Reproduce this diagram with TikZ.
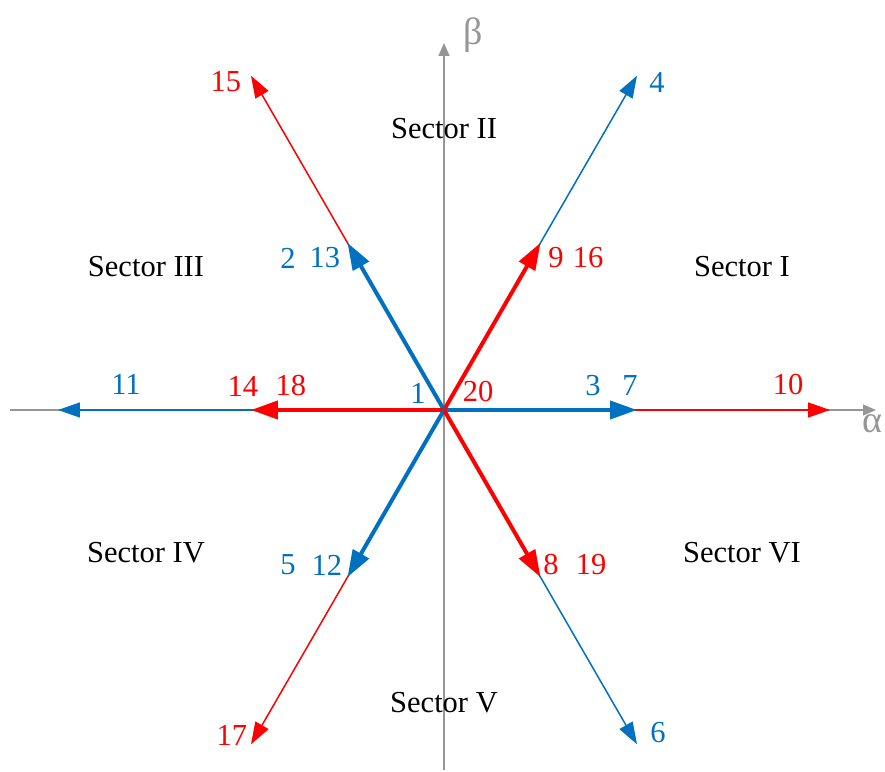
\documentclass[tikz,border=0pt]{standalone}
\usepackage{fontspec}
\setmainfont{Liberation Serif}
\usetikzlibrary{arrows.meta}
\definecolor{vblue}{RGB}{0,112,192}
\definecolor{vred}{RGB}{255,0,0}
\definecolor{axgray}{RGB}{150,150,150}
\tikzset{
  axis/.style={draw=axgray, line width=1.4pt, -{Triangle[length=13pt,width=11pt]}},
  thinvec/.style={line width=1.5pt, -{Triangle[length=22pt,width=15pt]}},
  thickvec/.style={line width=4pt, -{Triangle[length=27pt,width=18pt]}},
  lbl/.style={inner sep=0pt, font=\fontsize{30.5}{35}\selectfont},
  axlbl/.style={inner sep=0pt, text=axgray, font=\fontsize{38}{42}\selectfont},
}
\begin{document}
\begin{tikzpicture}[x=1pt,y=1pt]
\useasboundingbox (-444,-361) rectangle (441,410);
\coordinate (O) at (0,0);
\coordinate (ax0) at (-434,0);
\coordinate (ax1) at (432,0);
\coordinate (ay0) at (0,-360);
\coordinate (ay1) at (0,367);
\draw[axis] (ax0) -- (ax1);
\draw[axis] (ay0) -- (ay1);
\node[axlbl] (beta) at (29,375) {β};
\node[axlbl] (alpha) at (428,-14) {α};
% long vectors
\foreach \a/\c/\n in {0/vred/L0,60/vblue/L60,120/vred/L120,180/vblue/L180,240/vred/L240,300/vblue/L300}{
  \coordinate (\n) at (\a:386);
  \draw[thinvec, draw=\c, fill=\c] (O) -- (\n);
}
% short vectors
\foreach \a/\c/\n in {0/vblue/S0,60/vred/S60,120/vblue/S120,180/vred/S180,240/vblue/S240,300/vred/S300}{
  \coordinate (\n) at (\a:193);
  \draw[thickvec, draw=\c, fill=\c] (O) -- (\n);
}
% labels
\node[lbl, text=vblue] (t1) at (-26,17) {1};
\node[lbl, text=vred] (t20) at (34,18) {20};
\node[lbl, text=vblue] (t3) at (149,24) {3};
\node[lbl, text=vblue] (t7) at (186,24) {7};
\node[lbl, text=vred] (t10) at (344,25) {10};
\node[lbl, text=vred] (t9) at (112,152) {9};
\node[lbl, text=vred] (t16) at (144,152) {16};
\node[lbl, text=vblue] (t4) at (213,328) {4};
\node[lbl, text=vred] (t15) at (-218,328) {15};
\node[lbl, text=vblue] (t2) at (-156,152) {2};
\node[lbl, text=vblue] (t13) at (-119,152) {13};
\node[lbl, text=vblue] (t11) at (-318,26) {11};
\node[lbl, text=vred] (t14) at (-201,24) {14};
\node[lbl, text=vred] (t18) at (-153,24) {18};
\node[lbl, text=vblue] (t5) at (-156,-155) {5};
\node[lbl, text=vblue] (t12) at (-117,-155) {12};
\node[lbl, text=vred] (t17) at (-212,-325) {17};
\node[lbl, text=vred] (t8) at (107,-155) {8};
\node[lbl, text=vred] (t19) at (147,-155) {19};
\node[lbl, text=vblue] (t6) at (214,-323) {6};
% sectors
\node[lbl] (s2) at (0,281) {Sector II};
\node[lbl] (s1) at (298,143) {Sector I};
\node[lbl] (s3) at (-298,143) {Sector III};
\node[lbl] (s4) at (-298,-143) {Sector IV};
\node[lbl] (s5) at (0,-293) {Sector V};
\node[lbl] (s6) at (298,-143) {Sector VI};
\end{tikzpicture}
\end{document}
